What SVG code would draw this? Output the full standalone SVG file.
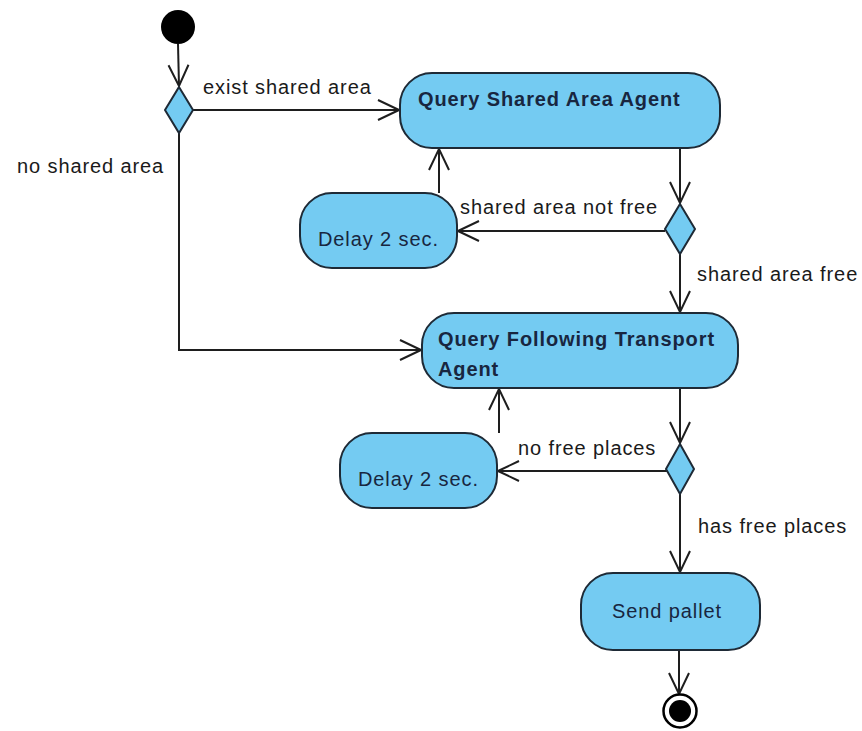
<svg xmlns="http://www.w3.org/2000/svg" width="862" height="731" viewBox="0 0 862 731">
  <style>
    .act { fill: #74cbf2; stroke: #1e2a36; stroke-width: 2; }
    .dec { fill: #74cbf2; stroke: #1e2a36; stroke-width: 2; }
    .flow { fill: none; stroke: #1e1e1e; stroke-width: 2; }
    .lbl { font-family: "Liberation Sans", Arial, sans-serif; font-size: 20px; letter-spacing: 0.9px; fill: #1a1a1a; }
    .name { font-family: "Liberation Sans", Arial, sans-serif; font-size: 20px; letter-spacing: 0.9px; fill: #182640; }
    .bold { font-weight: bold; }
  </style>
  <defs>
    <marker id="open" markerUnits="userSpaceOnUse" viewBox="-24 -13 26 26" refX="0" refY="0" markerWidth="26" markerHeight="26" orient="auto">
      <path d="M -21 -10 L 0 0 L -21 10" fill="none" stroke="#1e1e1e" stroke-width="2"/>
    </marker>
  </defs>
  <rect width="862" height="731" fill="#ffffff"/>

  <g id="connectors">
    <line class="flow" x1="178" y1="44" x2="179" y2="86" marker-end="url(#open)"/>
    <line class="flow" x1="193" y1="110" x2="399" y2="110" marker-end="url(#open)"/>
    <polyline class="flow" points="179,133 179,350 421,350" marker-end="url(#open)"/>
    <line class="flow" x1="680" y1="148" x2="680" y2="203" marker-end="url(#open)"/>
    <line class="flow" x1="665" y1="231" x2="458" y2="231" marker-end="url(#open)"/>
    <line class="flow" x1="439" y1="193" x2="439" y2="149" marker-end="url(#open)"/>
    <line class="flow" x1="680" y1="253" x2="680" y2="312" marker-end="url(#open)"/>
    <line class="flow" x1="680" y1="388" x2="680" y2="443" marker-end="url(#open)"/>
    <line class="flow" x1="667" y1="471" x2="498" y2="471" marker-end="url(#open)"/>
    <line class="flow" x1="499" y1="433" x2="499" y2="389" marker-end="url(#open)"/>
    <line class="flow" x1="680" y1="493" x2="680" y2="572" marker-end="url(#open)"/>
    <line class="flow" x1="679" y1="650" x2="679" y2="694" marker-end="url(#open)"/>

    <text class="lbl" x="203" y="94">exist shared area</text>
    <text class="lbl" x="17" y="173">no shared area</text>
    <text class="lbl" x="460" y="214">shared area not free</text>
    <text class="lbl" x="697" y="281">shared area free</text>
    <text class="lbl" x="518" y="455">no free places</text>
    <text class="lbl" x="698" y="533">has free places</text>
  </g>

  <g id="start">
    <circle cx="178" cy="27" r="17" fill="#000"/>
  </g>

  <g id="decision-shared">
    <polygon class="dec" points="179,87 193,110 179,133 165,110"/>
  </g>

  <g id="query-shared-area">
    <rect class="act" x="400" y="73" width="320" height="75" rx="32" ry="32"/>
    <text class="name bold" x="418" y="106">Query Shared Area Agent</text>
  </g>

  <g id="decision-area-free">
    <polygon class="dec" points="680,204 695,229 680,254 665,229"/>
  </g>

  <g id="delay-area">
    <rect class="act" x="300" y="193" width="157" height="75" rx="32" ry="32"/>
    <text class="name" x="318" y="246">Delay 2 sec.</text>
  </g>

  <g id="query-following-transport">
    <rect class="act" x="422" y="313" width="316" height="75" rx="32" ry="32"/>
    <text class="name bold" x="438" y="346">Query Following Transport</text>
    <text class="name bold" x="438" y="376">Agent</text>
  </g>

  <g id="decision-places">
    <polygon class="dec" points="680,444 694,469 680,494 666,469"/>
  </g>

  <g id="delay-places">
    <rect class="act" x="340" y="433" width="157" height="75" rx="32" ry="32"/>
    <text class="name" x="358" y="486">Delay 2 sec.</text>
  </g>

  <g id="send-pallet">
    <rect class="act" x="581" y="573" width="179" height="77" rx="32" ry="32"/>
    <text class="name" x="612" y="618">Send pallet</text>
  </g>

  <g id="final">
    <circle cx="680" cy="711" r="16.5" fill="#fff" stroke="#000" stroke-width="2.5"/>
    <circle cx="680" cy="711" r="11" fill="#000"/>
  </g>
</svg>
